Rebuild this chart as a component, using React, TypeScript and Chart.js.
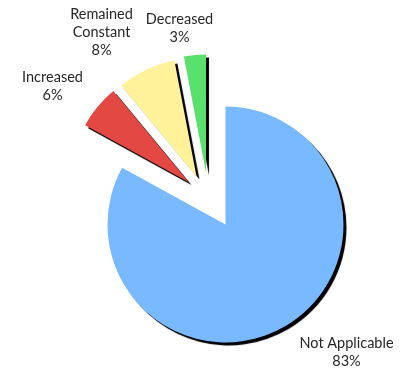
import React, { useEffect, useRef } from 'react';
import { Chart, registerables } from 'chart.js';

Chart.register(...registerables);

// ---- data ----
const categories: string[] = ['Not Applicable', 'Increased', 'Remained Constant', 'Decreased'];
const values: number[] = [83, 6, 8, 3];
const percentLabels: string[] = ['83%', '6%', '8%', '3%'];

// ---- styles / layout ----
const colors = ['#79b9ff', '#e34842', '#fff29b', '#5ae06c'];
const explode: [number, number][] = [[0, 0], [-37, -42.5], [-29, -48], [-19.5, -52]];
const labelLines: string[][] = [['Not Applicable'], ['Increased'], ['Remained', 'Constant'], ['Decreased']];
const labelAnchor: [number, number][] = [[346.5, 348], [52.5, 82], [101.5, 19], [179.5, 24]];
const FONT = '14.5px Lato, "Open Sans", sans-serif';
const LINE_H = 18;

const explodeShadowPlugin = {
  id: 'explodeShadow',
  beforeDatasetDraw(chart: any, args: any) {
    const meta = chart.getDatasetMeta(args.index);
    const ctx = chart.ctx;
    meta.data.forEach((arc: any, i: number) => {
      ctx.save();
      ctx.shadowColor = 'rgba(0,0,0,1)';
      ctx.shadowOffsetX = 3;
      ctx.shadowOffsetY = 3;
      ctx.shadowBlur = 0.8;
      const [dx, dy] = explode[i] || [0, 0];
      ctx.translate(dx, dy);
      arc.draw(ctx);
      ctx.restore();
    });
    return false;
  },
};

const labelsPlugin = {
  id: 'outerLabels',
  afterDraw(chart: any) {
    const ctx = chart.ctx;
    ctx.save();
    ctx.font = FONT;
    ctx.fillStyle = '#262626';
    ctx.textAlign = 'center';
    ctx.textBaseline = 'alphabetic';
    categories.forEach((_, i) => {
      const lines = [...labelLines[i], percentLabels[i]];
      const [x, y] = labelAnchor[i];
      lines.forEach((t, j) => ctx.fillText(t, x, y + j * LINE_H));
    });
    ctx.restore();
  },
};

export default function App() {
  const ref = useRef<HTMLCanvasElement | null>(null);
  useEffect(() => {
    if (!ref.current) return;
    const chart = new Chart(ref.current, {
      type: 'pie',
      data: {
        labels: categories,
        datasets: [
          {
            data: values,
            backgroundColor: colors,
            borderWidth: 0,
            hoverOffset: 0,
            offset: 0,
          },
        ],
      },
      options: {
        responsive: false,
        animation: false,
        events: [],
        layout: { padding: { left: 107.5, right: 61.5, top: 106.5, bottom: 31.5 } },
        plugins: {
          legend: { display: false },
          tooltip: { enabled: false },
          title: { display: false },
        },
      },
      plugins: [explodeShadowPlugin, labelsPlugin],
    });
    return () => chart.destroy();
  }, []);
  return (
    <div style={{ position: 'fixed', left: 0, top: 0, width: 405, height: 374, background: '#fff' }}>
      <canvas ref={ref} width={405} height={374} style={{ display: 'block' }} />
    </div>
  );
}
